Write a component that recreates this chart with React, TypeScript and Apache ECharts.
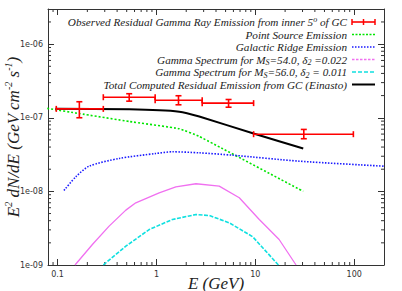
import React, { useEffect, useRef } from "react";
import * as echarts from "echarts";

// Observed residual emission (energy bins with error bars)
const obsE = [0.166, 0.53, 1.67, 5.36, 30.9];
const obsELo = [0.097, 0.29, 0.97, 2.9, 9.6];
const obsEHi = [0.29, 0.97, 2.9, 9.6, 98];
const obsFlux = [1.32e-7, 1.9e-7, 1.73e-7, 1.58e-7, 5.98e-8];
const obsFluxLo = [1.0e-7, 1.68e-7, 1.5e-7, 1.39e-7, 5.19e-8];
const obsFluxHi = [1.65e-7, 2.12e-7, 1.99e-7, 1.77e-7, 6.94e-8];

// Point source emission
const psE = [0.0787, 0.166, 0.53, 1.7, 2.71, 30.5];
const psFlux = [1.34e-7, 1.14e-7, 8.9e-8, 7.1e-8, 5.57e-8, 1.0e-8];

// Galactic ridge emission
const grE = [0.116, 0.153, 0.208, 0.42, 0.986, 1.45, 2.71, 5.9, 27.9, 198];
const grFlux = [1.03e-8, 1.58e-8, 2.2e-8, 2.8e-8, 3.27e-8, 3.45e-8, 3.34e-8, 3.1e-8, 2.57e-8, 2.2e-8];

// Gamma spectrum Ms=54.0
const m54E = [0.15, 0.225, 0.332, 0.49, 0.618, 1.065, 1.57, 2.51, 4.31, 6.88, 10.96, 17.4, 25.8];
const m54Flux = [1.0e-9, 1.9e-9, 3.37e-9, 5.56e-9, 7.0e-9, 9.57e-9, 1.15e-8, 1.27e-8, 1.18e-8, 8.2e-9, 4.15e-9, 2.22e-9, 1.0e-9];

// Gamma spectrum Ms=56.0
const m56E = [0.29, 0.388, 0.49, 0.843, 1.45, 2.51, 3.42, 5.45, 9.4, 17.1];
const m56Flux = [1.0e-9, 1.39e-9, 1.8e-9, 3.03e-9, 4.15e-9, 4.85e-9, 4.7e-9, 3.74e-9, 2.42e-9, 1.0e-9];

// Total computed residual emission
const totE = [0.095, 0.53, 1.7, 2.71, 9.77, 30.5];
const totFlux = [1.32e-7, 1.3e-7, 1.21e-7, 1.04e-7, 6.06e-8, 3.83e-8];

const xMin = 0.08;
const xMax = 200;
const yMin = 1e-9;
const yMax = 3e-6;

const legendLabels = [
  "{t|Observed Residual Gamma Ray Emission from inner 5}{sup|o}{t| of GC}",
  "{t|Point Source Emission}",
  "{t|Galactic Ridge Emission}",
  "{t|Gamma Spectrum for M}{sub|S}{t|=54.0, δ}{sub|2}{t| =0.022}",
  "{t|Gamma Spectrum for M}{sub|S}{t|=56.0, δ}{sub|2}{t| = 0.011}",
  "{t|Total Computed Residual Emission from GC (Einasto)}",
];

const pair = (xs: number[], ys: number[]) => xs.map((x, i) => [x, ys[i]]);

export default function App() {
  const ref = useRef<HTMLDivElement>(null);
  useEffect(() => {
    if (!ref.current) return;
    const chart = echarts.init(ref.current, undefined, { renderer: "svg" });
    const serif = "'Liberation Serif', 'DejaVu Serif', serif";
    const axisColor = "#333";

    const colors = ["#ff0000", "#00e600", "#1a1aff", "#f070f0", "#10e0e0", "#000000"];
    const lineTypes: any[] = ["solid", [2, 2], [1.5, 1.5], "solid", [4, 1.5], "solid"];
    const legendDash: any[] = [null, [2, 1.5], [1.5, 1.5], [2.5, 1.5], [4, 2], null];
    const widths = [1.6, 1.6, 1.6, 1.3, 1.6, 2];

    const legendX = 347;
    const sampleX1 = 352;
    const sampleX2 = 375;
    const rowY = [22, 34.5, 47, 59.5, 72, 84.5];

    const graphics: any[] = [];
    legendLabels.forEach((lab, i) => {
      graphics.push({
        type: "text",
        x: legendX,
        y: rowY[i],
        style: {
          text: lab,
          align: "right",
          verticalAlign: "middle",
          rich: {
            t: { fontFamily: serif, fontStyle: "italic", fontSize: 11.2, lineHeight: 14, fill: "#222" },
            sub: { fontFamily: serif, fontStyle: "italic", fontSize: 8, lineHeight: 8, verticalAlign: "bottom", fill: "#222" },
            sup: { fontFamily: serif, fontStyle: "italic", fontSize: 8, lineHeight: 8, verticalAlign: "top", fill: "#222" },
          },
        },
      });
      graphics.push({
        type: "line",
        shape: { x1: sampleX1, y1: rowY[i], x2: sampleX2, y2: rowY[i] },
        style: { stroke: colors[i], lineWidth: widths[i], lineDash: legendDash[i] },
      });
      if (i === 0) {
        [sampleX1, (sampleX1 + sampleX2) / 2, sampleX2].forEach((cx) => {
          graphics.push({
            type: "line",
            shape: { x1: cx, y1: rowY[i] - 3, x2: cx, y2: rowY[i] + 3 },
            style: { stroke: colors[0], lineWidth: 1.5 },
          });
        });
      }
    });

    const lineSeries = (xs: number[], ys: number[], i: number, smooth: number | boolean) => ({
      type: "line",
      data: pair(xs, ys),
      showSymbol: false,
      symbol: "none",
      smooth,
      clip: true,
      lineStyle: { color: colors[i], width: widths[i], type: lineTypes[i] },
      z: 3,
    });

    const errData = obsE.map((e, i) => [e, obsFlux[i], obsELo[i], obsEHi[i], obsFluxLo[i], obsFluxHi[i]]);

    const minorX: number[] = [];
    for (let d = -2; d <= 2; d++) {
      for (let k = 2; k <= 9; k++) {
        const v = k * Math.pow(10, d);
        if (v > xMin && v < xMax) minorX.push(v);
      }
    }
    const minorY: number[] = [];
    for (let d = -9; d <= -6; d++) {
      for (let k = 2; k <= 9; k++) {
        const v = k * Math.pow(10, d);
        if (v > yMin && v < yMax) minorY.push(v);
      }
    }

    const fmtY = (v: number) => {
      const e = Math.round(Math.log10(v));
      return "1e-" + String(-e).padStart(2, "0");
    };
    const fmtX = (v: number) => {
      const e = Math.round(Math.log10(v));
      return e < 0 ? "0.1" : String(Math.pow(10, e));
    };

    const baseX = {
      type: "log",
      min: xMin,
      max: xMax,
      logBase: 10,
      splitLine: { show: false },
      axisLine: { show: true, lineStyle: { color: axisColor, width: 1 } },
      axisTick: { show: true, inside: true, length: 6, lineStyle: { color: axisColor } },
    };
    const baseY = {
      type: "log",
      min: yMin,
      max: yMax,
      logBase: 10,
      splitLine: { show: false },
      axisLine: { show: true, lineStyle: { color: axisColor, width: 1 } },
      axisTick: { show: true, inside: true, length: 6, lineStyle: { color: axisColor } },
    };

    chart.setOption({
      animation: false,
      backgroundColor: "#ffffff",
      grid: { left: 48, right: 18, top: 9, bottom: 26, containLabel: false, outerBoundsMode: "none" },
      xAxis: [
        {
          ...baseX,
          position: "bottom",
          name: "E (GeV)",
          nameLocation: "middle",
          nameGap: 18,
          nameMoveOverlap: false,
          nameTextStyle: { fontFamily: serif, fontStyle: "italic", fontSize: 17, lineHeight: 17, color: "#222", align: "center", verticalAlign: "middle", padding: 0 },
          axisLabel: {
            show: true,
            formatter: fmtX,
            fontSize: 8,
            color: "#333",
            fontFamily: "'DejaVu Sans', sans-serif",
            margin: 5,
            showMinLabel: false,
            showMaxLabel: false,
          },
        },
        { ...baseX, position: "top", axisLabel: { show: false } },
      ],
      yAxis: [
        {
          ...baseY,
          position: "left",
          name: "{i|E}{s|2}{i| dN/dE (GeV cm}{s|-2}{i| s}{s|-1}{i|)}",
          nameLocation: "middle",
          nameRotate: 90,
          nameGap: 35,
          nameMoveOverlap: false,
          nameTextStyle: {
            align: "center",
            verticalAlign: "middle",
            padding: 0,
            rich: {
              i: { fontFamily: serif, fontStyle: "italic", fontSize: 17, lineHeight: 20, color: "#222" },
              s: { fontFamily: serif, fontStyle: "italic", fontSize: 10, lineHeight: 10, verticalAlign: "top", color: "#222" },
            },
          },
          axisLabel: {
            show: true,
            formatter: fmtY,
            fontSize: 8,
            color: "#333",
            fontFamily: "'DejaVu Sans', sans-serif",
            margin: 5,
            showMaxLabel: false,
          },
        },
        { ...baseY, position: "right", axisLabel: { show: false } },
      ],
      graphic: graphics,
      series: [
        {
          type: "custom",
          xAxisIndex: 0,
          yAxisIndex: 0,
          data: [[1, 1e-7]],
          silent: true,
          z: 1,
          renderItem: (params: any, api: any) => {
            const cs = params.coordSys;
            const children: any[] = [];
            const st = { stroke: axisColor, lineWidth: 1 };
            const len = 3;
            minorX.forEach((v) => {
              const p = api.coord([v, yMin]);
              children.push({ type: "line", shape: { x1: p[0], y1: cs.y + cs.height, x2: p[0], y2: cs.y + cs.height - len }, style: st });
              children.push({ type: "line", shape: { x1: p[0], y1: cs.y, x2: p[0], y2: cs.y + len }, style: st });
            });
            minorY.forEach((v) => {
              const p = api.coord([1, v]);
              children.push({ type: "line", shape: { x1: cs.x, y1: p[1], x2: cs.x + len, y2: p[1] }, style: st });
              children.push({ type: "line", shape: { x1: cs.x + cs.width, y1: p[1], x2: cs.x + cs.width - len, y2: p[1] }, style: st });
            });
            return { type: "group", children };
          },
        },
        lineSeries(psE, psFlux, 1, 0.1),
        lineSeries(grE, grFlux, 2, 0.25),
        lineSeries(m54E, m54Flux, 3, false),
        lineSeries(m56E, m56Flux, 4, false),
        lineSeries(totE, totFlux, 5, 0.15),
        {
          type: "custom",
          xAxisIndex: 0,
          yAxisIndex: 0,
          data: errData,
          z: 5,
          encode: { x: 0, y: 1 },
          renderItem: (params: any, api: any) => {
            const x = api.value(0);
            const y = api.value(1);
            const l = api.coord([api.value(2), y]);
            const r = api.coord([api.value(3), y]);
            const b = api.coord([x, api.value(4)]);
            const t = api.coord([x, api.value(5)]);
            const st = { stroke: colors[0], lineWidth: 1.6 };
            const cap = 3;
            return {
              type: "group",
              children: [
                { type: "line", shape: { x1: l[0], y1: l[1], x2: r[0], y2: r[1] }, style: st },
                { type: "line", shape: { x1: l[0], y1: l[1] - cap, x2: l[0], y2: l[1] + cap }, style: st },
                { type: "line", shape: { x1: r[0], y1: r[1] - cap, x2: r[0], y2: r[1] + cap }, style: st },
                { type: "line", shape: { x1: t[0], y1: t[1], x2: b[0], y2: b[1] }, style: st },
                { type: "line", shape: { x1: t[0] - cap, y1: t[1], x2: t[0] + cap, y2: t[1] }, style: st },
                { type: "line", shape: { x1: b[0] - cap, y1: b[1], x2: b[0] + cap, y2: b[1] }, style: st },
              ],
            };
          },
        },
      ],
    });
    return () => chart.dispose();
  }, []);
  return <div ref={ref} style={{ width: 402, height: 291, position: "absolute", left: 0, top: 0 }} />;
}
